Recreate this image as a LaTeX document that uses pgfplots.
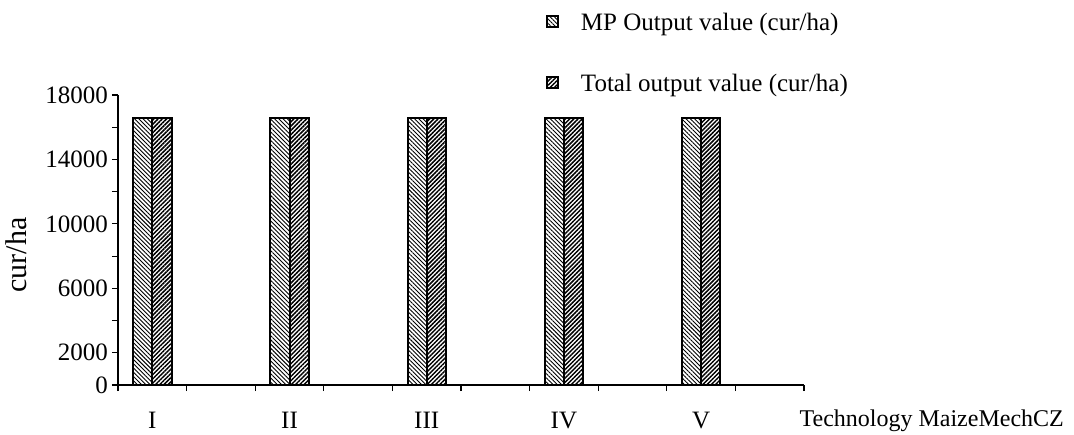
\documentclass[border=0pt]{standalone}
\usepackage{pgfplots}
\pgfplotsset{compat=1.18}
\usetikzlibrary{patterns.meta}
\usepackage{fontspec}
\setmainfont{Liberation Serif}
\begin{document}
\begin{tikzpicture}
\begin{axis}[
  scale only axis,
  width=343pt, height=145pt,
  xmin=0, xmax=10, ymin=0, ymax=18000,
  axis x line=bottom, axis y line=left,
  axis line style={-, line width=0.6pt},
  xtick={0,1,...,10}, xticklabels={},
  extra x ticks={0.5,2.5,4.5,6.5,8.5},
  extra x tick labels={I,II,III,IV,V},
  extra x tick style={major tick length=0pt, xticklabel style={yshift=-10pt}},
  ytick={0,2000,...,18000},
  yticklabels={0,2000,,6000,,10000,,14000,,18000},
  scaled y ticks=false,
  tick align=outside, major tick length=3pt,
  tick style={black, line width=0.6pt},
  /pgf/number format/assume math mode=true,
  /pgf/number format/1000 sep={},
  ticklabel style={font=\fontsize{12.5}{14}\selectfont},
  yticklabel style={xshift=1.5pt},
  ylabel={cur/ha},
  ylabel style={font=\fontsize{15}{17}\selectfont, at={(axis description cs:-0.148,0.448)}, anchor=center},
  xlabel={Technology MaizeMechCZ},
  xlabel style={font=\fontsize{12}{14}\selectfont, at={(axis description cs:0.993,0)}, anchor=base west, inner xsep=0pt, yshift=-20.5pt},
  ybar=0pt, bar width=9.6pt,
  clip=false,
  legend style={draw=none, fill=none, at={(axis description cs:0.624,1.284)}, anchor=north west,
    inner sep=0pt, outer sep=0pt, row sep=18.5pt, column sep=0pt,
    font=\fontsize{12.5}{14}\selectfont,
    nodes={inner sep=0pt, text height=9pt, text depth=3pt}},
  legend cell align=left,
  legend image code/.code={\draw[#1, line width=0.9pt] (0pt,-1pt) rectangle (5.5pt,4.5pt); \path (16.5pt,0pt);},
]
\addplot[draw=black, line width=1pt, pattern={Lines[angle=-45, distance=1.5pt, line width=0.45pt]}]
  coordinates {(0.5,16550) (2.5,16550) (4.5,16550) (6.5,16550) (8.5,16550)};
\addplot[draw=black, line width=1pt, pattern={Lines[angle=45, distance=1.5pt, line width=0.75pt]}]
  coordinates {(0.5,16550) (2.5,16550) (4.5,16550) (6.5,16550) (8.5,16550)};
\legend{MP Output value (cur/ha), Total output value (cur/ha)}
\end{axis}
\pgfresetboundingbox
\path (-59pt,-24.5pt) rectangle (478pt,192.5pt);
\end{tikzpicture}
\end{document}
